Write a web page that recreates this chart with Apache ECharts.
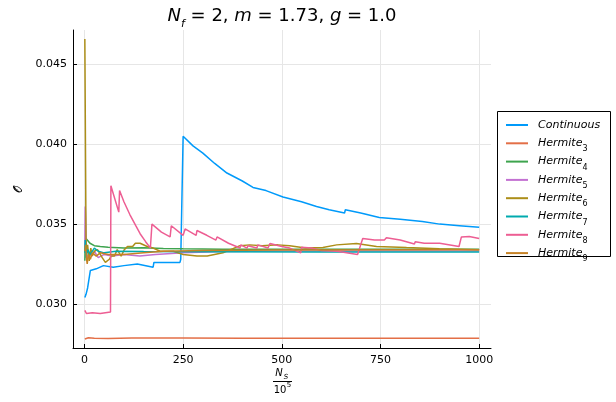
<!DOCTYPE html>
<html>
<head>
<meta charset="utf-8">
<script src="https://cdn.jsdelivr.net/npm/echarts@6/dist/echarts.min.js"></script>
<style>
  html, body { margin: 0; padding: 0; background: #fff; }
  #chart { width: 616px; height: 402px; }
</style>
</head>
<body>
<div id="chart"></div>
<script>
// values (x = N_S / 10^5)
const xTicks = [0, 250, 500, 750, 1000];
const yTicks = [0.030, 0.035, 0.040, 0.045];

const contX = [1, 4, 8, 15, 30, 48, 73, 100, 134, 174, 176, 210, 242, 244, 249, 250, 275, 300, 330, 361, 400, 427, 460, 503, 550, 588, 620, 659, 661, 700, 747, 800, 856, 900, 950, 1000];
const contY = [0.0304, 0.0306, 0.0310, 0.0321, 0.0322, 0.0324, 0.0323, 0.0324, 0.0325, 0.0323, 0.0326, 0.0326, 0.0326, 0.0328, 0.0328, 0.0405, 0.0399, 0.03945, 0.0388, 0.0382, 0.0377, 0.0373, 0.0371, 0.0367, 0.0364, 0.0361, 0.0359, 0.0357, 0.0359, 0.0357, 0.03542, 0.0353, 0.03516, 0.0350, 0.0349, 0.0348];

const h3X = [1, 4, 10, 25, 60, 120, 250, 400, 600, 800, 1000];
const h3Y = [0.02780, 0.02786, 0.02788, 0.02785, 0.02784, 0.02786, 0.02786, 0.02785, 0.02785, 0.02785, 0.02785];

const h4X = [1, 2, 4, 8, 14, 25, 40, 60, 100, 150, 200, 250, 350, 500, 700, 1000];
const h4Y = [0.0327, 0.0337, 0.0341, 0.0340, 0.0338, 0.03365, 0.0336, 0.03355, 0.0335, 0.03352, 0.03348, 0.03345, 0.03343, 0.03342, 0.03343, 0.03342];

const h5X = [1, 2, 3, 5, 8, 12, 18, 25, 35, 50, 70, 100, 140, 180, 250, 350, 500, 1000];
const h5Y = [0.0336, 0.0361, 0.0354, 0.0331, 0.0329, 0.0332, 0.0330, 0.0333, 0.0329, 0.0331, 0.0330, 0.0331, 0.0330, 0.0331, 0.0332, 0.03328, 0.03332, 0.03332];

const h6X = [1, 4, 6, 8, 12, 16, 20, 25, 33, 45, 53, 63, 68, 76, 83, 93, 101, 109, 122, 129, 141, 159, 174, 192, 225, 250, 285, 311, 351, 394, 419, 450, 490, 520, 560, 604, 639, 689, 740, 816, 899, 1000];
const h6Y = [0.0466, 0.0340, 0.0332, 0.0337, 0.0327, 0.0335, 0.0330, 0.0333, 0.0334, 0.0329, 0.0326, 0.0328, 0.0330, 0.0330, 0.0334, 0.0330, 0.0334, 0.0336, 0.0336, 0.0338, 0.0338, 0.0336, 0.0335, 0.0333, 0.0333, 0.0331, 0.0330, 0.0330, 0.0332, 0.03365, 0.0337, 0.03365, 0.0337, 0.03365, 0.0335, 0.03353, 0.0337, 0.03378, 0.0336, 0.03353, 0.03346, 0.0334];

const h7X = [1, 2, 4, 8, 15, 25, 35, 50, 80, 150, 300, 600, 1000];
const h7Y = [0.0332, 0.0340, 0.0329, 0.0334, 0.0331, 0.0335, 0.0333, 0.0332, 0.0333, 0.03328, 0.03327, 0.03326, 0.03326];

const h8X = [1, 5, 20, 40, 66, 67, 87, 89, 100, 115, 130, 141, 155, 167, 171, 195, 217, 220, 250, 255, 283, 285, 310, 333, 336, 365, 394, 396, 412, 414, 437, 439, 465, 470, 500, 520, 548, 550, 575, 600, 602, 640, 692, 705, 735, 737, 760, 765, 800, 836, 838, 861, 864, 900, 949, 955, 975, 1000];
const h8Y = [0.0296, 0.0294, 0.02945, 0.0294, 0.0295, 0.0374, 0.03575, 0.0371, 0.0364, 0.0356, 0.0349, 0.0344, 0.0339, 0.0335, 0.0350, 0.0345, 0.0342, 0.0349, 0.0343, 0.0347, 0.0343, 0.0346, 0.0343, 0.0340, 0.0342, 0.0338, 0.0335, 0.0337, 0.0335, 0.03365, 0.0335, 0.0337, 0.0335, 0.03378, 0.0336, 0.0335, 0.0332, 0.03355, 0.0335, 0.03335, 0.03345, 0.0333, 0.0331, 0.0341, 0.0340, 0.03412, 0.0340, 0.03414, 0.0340, 0.03376, 0.0339, 0.0338, 0.0339, 0.0338, 0.0336, 0.0342, 0.03422, 0.0341];

const h9X = [1, 3, 5, 7, 10, 15, 20, 30, 40, 60, 100, 150, 200, 300, 500, 1000];
const h9Y = [0.0333, 0.0337, 0.0329, 0.0325, 0.0331, 0.0328, 0.0332, 0.0330, 0.0332, 0.0331, 0.0331, 0.0332, 0.0333, 0.03335, 0.03338, 0.0334];

const names = ['Continuous', 'Hermite3', 'Hermite4', 'Hermite5', 'Hermite6', 'Hermite7', 'Hermite8', 'Hermite9'];
const colors = ['#009AFA', '#E36F47', '#3EA44E', '#C371D2', '#AC8E18', '#00AAAE', '#ED5E93', '#C68225'];
const xs = [contX, h3X, h4X, h5X, h6X, h7X, h8X, h9X];
const ys = [contY, h3Y, h4Y, h5Y, h6Y, h7Y, h8Y, h9Y];

const font = 'DejaVu Sans';

const chart = echarts.init(document.getElementById('chart'));

const series = names.map((n, i) => ({
  name: n,
  type: 'line',
  symbol: 'none',
  animation: false,
  lineStyle: { width: 1.5, color: colors[i] },
  itemStyle: { color: colors[i] },
  data: xs[i].map((x, k) => [x, ys[i][k]])
}));

// small helper for the axis-name pieces
const txt = (x, y, text, size, italic) => ({
  type: 'text',
  style: { x: x, y: y, text: text, align: 'center', fill: '#000',
    font: (italic ? 'italic ' : '') + size + 'px "' + font + '"' }
});

const option = {
  backgroundColor: '#fff',
  animation: false,
  title: {
    text: '{i|N}{sub|f}{n| = 2, }{i|m}{n| = 1.73, }{i|g}{n| = 1.0}',
    left: 277,
    top: 2,
    textAlign: 'center',
    textStyle: {
      fontWeight: 'normal',
      rich: {
        i: { fontFamily: font, fontSize: 18, fontStyle: 'italic', fontWeight: 'normal', color: '#000' },
        n: { fontFamily: font, fontSize: 18, fontWeight: 'normal', color: '#000' },
        sub: { fontFamily: font, fontSize: 11, fontStyle: 'italic', fontWeight: 'normal', color: '#000', verticalAlign: 'bottom', padding: [0, 0, -5, 0] }
      }
    }
  },
  legend: {
    orient: 'vertical',
    left: 497,
    top: 111,
    padding: [7, 12, 0, 9],
    icon: 'rect',
    itemWidth: 22,
    itemHeight: 2,
    itemGap: 1.3,
    data: names,
    formatter: n => n === 'Continuous' ? '{i|Continuous}{s| }' : '{i|Hermite}{s|' + n.slice(7) + '}',
    textStyle: {
      padding: [0, 0, 0, 5],
      lineHeight: 14,
      rich: {
        i: { fontFamily: font, fontSize: 11, fontStyle: 'italic', color: '#000', lineHeight: 14 },
        s: { fontFamily: font, fontSize: 8, color: '#000', verticalAlign: 'bottom', lineHeight: 14, padding: [0, 0, -3, 0] }
      }
    }
  },
  grid: { left: 73, top: 30, width: 418, height: 318, containLabel: false },
  xAxis: {
    type: 'value',
    min: -29,
    max: 1030,
    axisLine: { show: true, onZero: false, lineStyle: { color: '#000', width: 1 } },
    axisTick: { show: true, inside: true, length: 4, customValues: xTicks, lineStyle: { color: '#000' } },
    axisLabel: { customValues: xTicks, formatter: v => String(v), color: '#000', fontFamily: font, fontSize: 11, margin: 7 },
    splitLine: { show: true, lineStyle: { color: '#e6e6e6', width: 1 } }
  },
  yAxis: {
    type: 'value',
    min: 0.02724,
    max: 0.04716,
    name: '\uD835\uDCAA',
    nameLocation: 'middle',
    nameGap: 44,
    nameRotate: 90,
    nameTextStyle: { fontFamily: font, fontSize: 11, color: '#000' },
    axisLine: { show: true, onZero: false, lineStyle: { color: '#000', width: 1 } },
    axisTick: { show: true, inside: true, length: 4, customValues: yTicks, lineStyle: { color: '#000' } },
    axisLabel: { customValues: yTicks, formatter: v => v.toFixed(3), color: '#000', fontFamily: font, fontSize: 11, margin: 6 },
    splitLine: { show: true, lineStyle: { color: '#e6e6e6', width: 1 } }
  },
  graphic: [
    // legend frame
    { type: 'rect', z: -1, shape: { x: 497.5, y: 111.5, width: 113, height: 145 }, style: { fill: '#fff', stroke: '#000', lineWidth: 1 } },
    txt(279, 368, 'N', 10, true),
    txt(286, 374, 'S', 7, true),
    { type: 'line', shape: { x1: 273, y1: 381.5, x2: 292, y2: 381.5 }, style: { stroke: '#000', lineWidth: 1 } },
    txt(280, 385, '10', 10, false),
    txt(289, 382, '5', 7, false)
  ],
  series: series
};

chart.setOption(option);
</script>
</body>
</html>
